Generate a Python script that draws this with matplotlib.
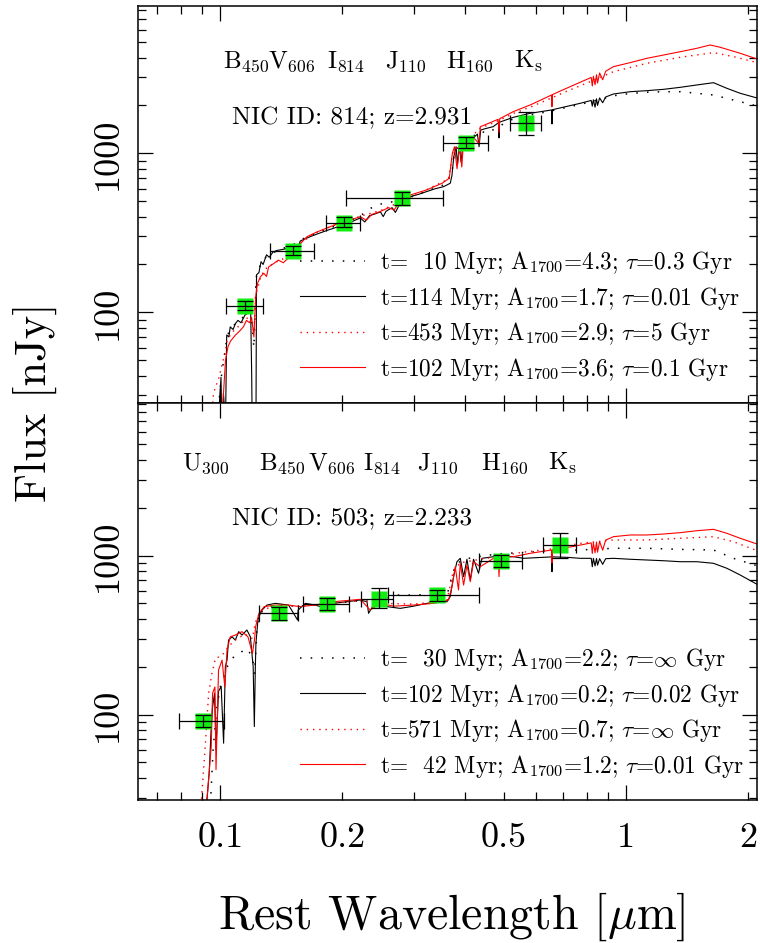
import matplotlib
matplotlib.use("Agg")
import matplotlib.pyplot as plt
from matplotlib.ticker import FixedLocator

plt.rcParams["font.family"] = "cmr10"
plt.rcParams["mathtext.fontset"] = "cm"
plt.rcParams["axes.formatter.use_mathtext"] = True

# ---------------- NIC ID 814, z = 2.931 ----------------
up_bk_sol_wl = [0.0950, 0.0990, 0.1004, 0.1010, 0.1018, 0.1030, 0.1037, 0.1050, 0.1058, 0.1075,
                0.1090, 0.1105, 0.1125, 0.1150, 0.1170, 0.1188, 0.1195, 0.1205, 0.1222, 0.1228,
                0.1245, 0.1260, 0.1275, 0.1300, 0.1320, 0.1350, 0.1380, 0.1405, 0.1440, 0.1487,
                0.1520, 0.1545, 0.1574, 0.1620, 0.1670, 0.1763, 0.1850, 0.1975, 0.2100, 0.2212,
                0.2270, 0.2330, 0.2400, 0.2480, 0.2520, 0.2560, 0.2650, 0.2700, 0.2775, 0.2850,
                0.2940, 0.3100, 0.3220, 0.3380, 0.3550, 0.3685, 0.3720, 0.3760, 0.3810, 0.3840,
                0.3880, 0.3920, 0.3960, 0.4020, 0.4100, 0.4200, 0.4300, 0.4340, 0.4380, 0.4500,
                0.4700, 0.4850, 0.4861, 0.4875, 0.5270, 0.5800, 0.6550, 0.6563, 0.6580, 0.7700,
                0.8200, 0.8250, 0.8300, 0.8380, 0.8450, 0.8500, 0.8600, 0.8750, 0.8900, 0.9300,
                1.0230, 1.1240, 1.2360, 1.3590, 1.4930, 1.6410, 1.7700, 1.9090, 2.1000]
up_bk_sol_fx = [8, 22, 39, 14, 31, 20, 72, 70, 81, 78,
                85, 89, 86, 96, 99, 103, 40, 5, 5, 172,
                178, 208, 200, 230, 222, 240, 245, 247, 250, 255,
                262, 245, 281, 290, 300, 316, 330, 349, 370, 392,
                370, 405, 415, 428, 400, 432, 455, 425, 485, 505,
                534, 555, 574, 598, 617, 648, 720, 950, 1100, 850,
                1120, 880, 1150, 1180, 1200, 1250, 1320, 1100, 1400, 1430,
                1470, 1560, 1250, 1570, 1683, 1785, 1873, 1530, 1880, 2062,
                2150, 1980, 2170, 1950, 2200, 2000, 2230, 2080, 2260, 2360,
                2440, 2477, 2525, 2600, 2690, 2780, 2563, 2385, 2228]

up_rd_sol_wl = [0.1005, 0.1015, 0.1030, 0.1045, 0.1060, 0.1090, 0.1120, 0.1140, 0.1160, 0.1180,
                0.1195, 0.1210, 0.1222, 0.1235, 0.1255, 0.1280, 0.1300, 0.1315, 0.1355, 0.1390,
                0.1430, 0.1480, 0.1520, 0.1550, 0.1574, 0.1635, 0.1720, 0.1820, 0.1960, 0.2120,
                0.2212, 0.2290, 0.2360, 0.2475, 0.2600, 0.2680, 0.2770, 0.2940, 0.3220, 0.3520,
                0.3665, 0.3730, 0.3775, 0.3830, 0.3890, 0.3935, 0.3970, 0.4100, 0.4200, 0.4340,
                0.4370, 0.4835, 0.4861, 0.4880, 0.5270, 0.5800, 0.6550, 0.6563, 0.6580, 0.7125,
                0.8200, 0.8250, 0.8300, 0.8380, 0.8450, 0.8500, 0.8600, 0.8750, 0.8900, 0.9300,
                1.0230, 1.1240, 1.2360, 1.3590, 1.4930, 1.6100, 1.7040, 1.9090, 2.1370]
up_rd_sol_fx = [5, 27, 50, 61, 66, 72, 77, 81, 89, 86,
                92, 70, 125, 152, 167, 176, 168, 193, 203, 213,
                205, 223, 259, 250, 270, 299, 318, 337, 363, 385,
                399, 380, 412, 430, 455, 440, 497, 547, 588, 648,
                697, 1000, 1100, 800, 1130, 820, 1150, 1190, 1260, 1150,
                1469, 1636, 1350, 1650, 1828, 2014, 2327, 1964, 2340, 2563,
                3000, 2650, 3050, 2700, 3120, 2767, 3200, 2900, 3280, 3508,
                3717, 3956, 4150, 4355, 4575, 4800, 4643, 4256, 3860]

up_rd_dot_wl = [0.0930, 0.0962, 0.0993, 0.1006, 0.1026, 0.1040, 0.1070, 0.1100, 0.1150, 0.1190,
                0.1210, 0.1225, 0.1260, 0.1300, 0.1360, 0.1420, 0.1500, 0.1574, 0.1700, 0.1850,
                0.2000, 0.2200, 0.2500, 0.2800, 0.3200, 0.3650, 0.3750, 0.4000, 0.4370, 0.4835,
                0.5270, 0.5800, 0.6550, 0.7125, 0.8500, 0.9300, 1.1240, 1.3590, 1.6410, 1.8370,
                2.1370]
up_rd_dot_fx = [10, 31, 39, 45, 55, 67, 75, 80, 90, 95,
                75, 130, 170, 190, 205, 215, 240, 272, 312, 342,
                370, 400, 440, 500, 585, 690, 1050, 1160, 1440, 1600,
                1780, 1950, 2230, 2450, 2950, 3260, 3680, 4018, 4295, 4055,
                3680]

up_bk_dot_wl = [0.0990, 0.1004, 0.1030, 0.1040, 0.1080, 0.1120, 0.1160, 0.1190, 0.1210, 0.1225,
                0.1260, 0.1300, 0.1405, 0.1500, 0.1574, 0.1700, 0.1850, 0.2000, 0.2200, 0.2350,
                0.2520, 0.2800, 0.3200, 0.3600, 0.3720, 0.3780, 0.4020, 0.4370, 0.4540, 0.5180,
                0.5800, 0.6550, 0.7700, 0.8600, 0.9300, 1.0230, 1.1240, 1.2360, 1.3590, 1.4930,
                1.6410, 1.8370, 2.1370]
up_bk_dot_fx = [25, 38, 60, 72, 83, 90, 97, 101, 60, 165,
                205, 225, 250, 262, 285, 310, 338, 360, 400, 452,
                486, 505, 575, 640, 750, 1050, 1180, 1380, 1336, 1620,
                1740, 1850, 2030, 2180, 2300, 2380, 2420, 2440, 2440, 2385,
                2325, 2164, 1963]

up_band = ["B", "V", "I", "J", "H", "K"]
up_band_sub = ["450", "606", "814", "110", "160", "s"]
up_wl = [0.1150, 0.1507, 0.2012, 0.2803, 0.4041, 0.5650]
up_wl_lo = [0.1030, 0.1322, 0.1826, 0.2046, 0.3547, 0.5160]
up_wl_hi = [0.1276, 0.1704, 0.2209, 0.3547, 0.4553, 0.6164]
up_fx = [110, 244, 366, 525, 1166, 1544]
up_fx_lo = [103, 229, 345, 473, 1075, 1304]
up_fx_hi = [118, 261, 399, 574, 1272, 1828]

up_labels = [r"t=  10 Myr; A$_{1700}$=4.3; $\tau$=0.3 Gyr",
             r"t=114 Myr; A$_{1700}$=1.7; $\tau$=0.01 Gyr",
             r"t=453 Myr; A$_{1700}$=2.9; $\tau$=5 Gyr",
             r"t=102 Myr; A$_{1700}$=3.6; $\tau$=0.1 Gyr"]

# ---------------- NIC ID 503, z = 2.233 ----------------
lo_bk_sol_wl = [0.0900, 0.0927, 0.0939, 0.0950, 0.0957, 0.0968, 0.0976, 0.0990, 0.1005, 0.1019,
                0.1029, 0.1039, 0.1048, 0.1069, 0.1089, 0.1110, 0.1131, 0.1163, 0.1186, 0.1205,
                0.1213, 0.1220, 0.1224, 0.1238, 0.1255, 0.1267, 0.1303, 0.1366, 0.1473, 0.1550,
                0.1555, 0.1620, 0.1714, 0.1763, 0.1901, 0.2051, 0.2212, 0.2298, 0.2319, 0.2385,
                0.2574, 0.2775, 0.2992, 0.3228, 0.3617, 0.3685, 0.3756, 0.3828, 0.3901, 0.3976,
                0.4052, 0.4129, 0.4206, 0.4327, 0.4411, 0.4711, 0.5278, 0.5585, 0.6550, 0.6563,
                0.6580, 0.7145, 0.7704, 0.8200, 0.8250, 0.8300, 0.8380, 0.8450, 0.8500, 0.8600,
                0.8750, 0.8900, 0.9300, 1.0230, 1.1240, 1.2360, 1.3590, 1.4930, 1.6410, 1.7700,
                1.9090, 2.1370]
lo_bk_sol_fx = [5, 29, 43, 84, 111, 136, 60, 140, 150, 66,
                200, 220, 294, 308, 294, 332, 316, 340, 308, 200,
                84, 200, 280, 393, 433, 454, 488, 500, 488, 393,
                454, 500, 488, 477, 500, 512, 525, 512, 433, 488,
                477, 465, 480, 500, 512, 551, 736, 914, 960, 736,
                947, 701, 947, 773, 960, 983, 983, 960, 980, 791,
                980, 974, 960, 960, 850, 960, 860, 958, 870, 955,
                880, 955, 960, 947, 937, 927, 914, 914, 893, 831,
                754, 643]

lo_rd_sol_wl = [0.0927, 0.0950, 0.0957, 0.0970, 0.0976, 0.0990, 0.1010, 0.1026, 0.1039, 0.1058,
                0.1089, 0.1131, 0.1170, 0.1200, 0.1215, 0.1222, 0.1245, 0.1283, 0.1366, 0.1470,
                0.1570, 0.1714, 0.1800, 0.1901, 0.2212, 0.2341, 0.2477, 0.2672, 0.2992, 0.3352,
                0.3650, 0.3722, 0.3792, 0.3862, 0.3901, 0.3976, 0.4052, 0.4129, 0.4206, 0.4369,
                0.4711, 0.4840, 0.4861, 0.4880, 0.5278, 0.5800, 0.6550, 0.6563, 0.6580, 0.6900,
                0.7350, 0.8200, 0.8250, 0.8300, 0.8380, 0.8450, 0.8500, 0.8600, 0.8750, 0.8900,
                0.9300, 1.0230, 1.1240, 1.2360, 1.3590, 1.4930, 1.6410, 1.7700, 1.9090, 2.1370]
lo_rd_sol_fx = [29, 63, 136, 149, 45, 190, 220, 149, 254, 308,
                316, 332, 308, 242, 300, 357, 433, 477, 488, 488,
                477, 488, 500, 512, 530, 454, 500, 480, 488, 500,
                525, 636, 850, 607, 893, 652, 871, 684, 914, 850,
                960, 970, 736, 975, 983, 1032, 1083, 900, 1085, 1110,
                1136, 1200, 1030, 1205, 1040, 1215, 1050, 1225, 1080, 1250,
                1313, 1346, 1346, 1365, 1392, 1432, 1461, 1379, 1283, 1164]

lo_rd_dot_wl = [0.0870, 0.0901, 0.0918, 0.0927, 0.0936, 0.0954, 0.0973, 0.1000, 0.1019, 0.1050,
                0.1100, 0.1150, 0.1200, 0.1220, 0.1260, 0.1366, 0.1550, 0.1800, 0.2212, 0.2500,
                0.3000, 0.3617, 0.3750, 0.3901, 0.4400, 0.4900, 0.5580, 0.6550, 0.7704, 0.9300,
                1.1240, 1.3590, 1.6410, 1.8370, 2.1370]
lo_rd_dot_fx = [10, 32, 63, 92, 136, 182, 226, 232, 242, 270,
                300, 320, 300, 380, 450, 485, 480, 495, 520, 500,
                495, 520, 800, 900, 950, 990, 1050, 1100, 1193, 1252,
                1252, 1283, 1313, 1221, 1056]

lo_bk_dot_wl = [0.0940, 0.0960, 0.0980, 0.1000, 0.1048, 0.1089, 0.1131, 0.1163, 0.1200, 0.1215,
                0.1230, 0.1260, 0.1366, 0.1550, 0.1800, 0.2212, 0.2600, 0.2723, 0.3051, 0.3352,
                0.3617, 0.3700, 0.3800, 0.4000, 0.4500, 0.5000, 0.5800, 0.6550, 0.7704, 0.9300,
                1.1240, 1.3590, 1.6410, 1.8370, 2.1370]
lo_bk_dot_fx = [20, 60, 110, 149, 210, 237, 249, 260, 230, 180,
                330, 440, 490, 480, 495, 520, 545, 564, 564, 573,
                560, 700, 880, 950, 1000, 1030, 1050, 1070, 1083, 1110,
                1110, 1093, 1083, 960, 850]

lo_band = ["U", "B", "V", "I", "J", "H", "K"]
lo_band_sub = ["300", "450", "606", "814", "110", "160", "s"]
lo_wl = [0.0904, 0.1397, 0.1837, 0.2454, 0.3418, 0.4920, 0.6880]
lo_wl_lo = [0.0789, 0.1247, 0.1603, 0.2220, 0.2594, 0.4327, 0.6255]
lo_wl_hi = [0.1019, 0.1553, 0.2070, 0.2670, 0.4327, 0.5545, 0.7518]
lo_fx = [91.4, 433, 493, 532, 564, 927, 1164]
lo_fx_lo = [84, 393, 454, 465, 520, 850, 960]
lo_fx_hi = [99, 476, 538, 622, 606, 1007, 1379]

lo_labels = [r"t=  30 Myr; A$_{1700}$=2.2; $\tau$=$\infty$ Gyr",
             r"t=102 Myr; A$_{1700}$=0.2; $\tau$=0.02 Gyr",
             r"t=571 Myr; A$_{1700}$=0.7; $\tau$=$\infty$ Gyr",
             r"t=  42 Myr; A$_{1700}$=1.2; $\tau$=0.01 Gyr"]

x_minor = [0.07, 0.08, 0.09, 0.2, 0.3, 0.4, 0.5, 0.6, 0.7, 0.8, 0.9, 2.0]
x_minor_lab = ["", "", "", "0.2", "", "", "0.5", "", "", "", "", "2"]
y_major = [10, 100, 1000, 10000]
y_minor = [m * d for d in (10, 100, 1000) for m in range(2, 10)]

# ---------------- figure ----------------
W, H = 760, 943
fig = plt.figure(figsize=(W / 100, H / 100), dpi=100)
ax_up = fig.add_axes([138 / W, 1 - 403 / H, 619 / W, 397 / H])
ax_lo = fig.add_axes([138 / W, 1 - 800 / H, 619 / W, 397 / H])

BK_DOT = dict(color="black", lw=1.1, ls=(0, (1, 6)))
BK_SOL = dict(color="black", lw=0.8, ls="-")
RD_DOT = dict(color="red", lw=1.0, ls=(0, (1, 3.5)))
RD_SOL = dict(color="red", lw=0.8, ls="-")
GREEN = "#11ee11"
LEG_FS = 16.8


def draw_panel(ax, curves, labels, wl, wlo, whi, fx, flo, fhi, ylim):
    handles = []
    for (cx, cy), sty in zip(curves, (BK_DOT, BK_SOL, RD_DOT, RD_SOL)):
        h, = ax.plot(cx, cy, zorder=2, **sty)
        handles.append(h)
    ax.plot(wl, fx, "s", ms=12.2, color=GREEN, mec="none", zorder=4)
    xerr = [[w - a for w, a in zip(wl, wlo)], [b - w for w, b in zip(wl, whi)]]
    yerr = [[f - a for f, a in zip(fx, flo)], [b - f for f, b in zip(fx, fhi)]]
    ax.errorbar(wl, fx, xerr=xerr, yerr=yerr, fmt="none", ecolor="black",
                elinewidth=0.9, capsize=5.5, capthick=0.9, zorder=5)
    ax.set_xscale("log")
    ax.set_yscale("log")
    ax.set_xlim(0.0627, 2.10)
    ax.xaxis.set_major_locator(FixedLocator([0.1, 1.0]))
    ax.set_xticks([0.1, 1.0], labels=["0.1", "1"])
    ax.set_xticks(x_minor, labels=x_minor_lab, minor=True)
    ax.set_yticks(y_major, labels=[str(v) for v in y_major])
    ax.set_yticks(y_minor, labels=[""] * len(y_minor), minor=True)
    ax.set_ylim(*ylim)
    ax.tick_params(which="both", direction="in", top=True, right=True,
                   width=0.9, labelsize=26)
    ax.tick_params(which="major", length=11)
    ax.tick_params(which="minor", length=6)
    ax.tick_params(axis="y", which="major", labelrotation=90, pad=10)
    ax.tick_params(axis="x", which="both", pad=16)
    for lab in ax.get_yticklabels():
        lab.set_va("center")
    for sp in ax.spines.values():
        sp.set_linewidth(1.1)
    ax.legend(handles, labels, loc="upper left",
              bbox_to_anchor=((300 - 138) / 619, 0.3876),
              frameon=False, fontsize=LEG_FS, handlelength=2.8,
              handletextpad=0.62, labelspacing=0.364,
              borderpad=0, borderaxespad=0)


draw_panel(ax_up,
           [(up_bk_dot_wl, up_bk_dot_fx), (up_bk_sol_wl, up_bk_sol_fx),
            (up_rd_dot_wl, up_rd_dot_fx), (up_rd_sol_wl, up_rd_sol_fx)],
           up_labels, up_wl, up_wl_lo, up_wl_hi, up_fx, up_fx_lo, up_fx_hi,
           (26.9, 8440))
draw_panel(ax_lo,
           [(lo_bk_dot_wl, lo_bk_dot_fx), (lo_bk_sol_wl, lo_bk_sol_fx),
            (lo_rd_dot_wl, lo_rd_dot_fx), (lo_rd_sol_wl, lo_rd_sol_fx)],
           lo_labels, lo_wl, lo_wl_lo, lo_wl_hi, lo_fx, lo_fx_lo, lo_fx_hi,
           (29.0, 9100))
ax_up.tick_params(axis="x", which="both", labelbottom=False)

# filter names along the top of each panel (pixel columns of the letters)
up_lab_px = [223, 268, 327, 385, 446, 514]
lo_lab_px = [182, 259, 308, 363, 417, 481, 548]
for px, b, s in zip(up_lab_px, up_band, up_band_sub):
    ax_up.text((px - 138) / 619, (403 - 68) / 397, b + r"$_\mathrm{" + s + "}$",
               transform=ax_up.transAxes, fontsize=18, va="baseline", ha="left")
for px, b, s in zip(lo_lab_px, lo_band, lo_band_sub):
    ax_lo.text((px - 138) / 619, (800 - 470) / 397, b + r"$_\mathrm{" + s + "}$",
               transform=ax_lo.transAxes, fontsize=18, va="baseline", ha="left")

ax_up.text((232 - 138) / 619, (403 - 124) / 397, "NIC ID: 814; z=2.931",
           transform=ax_up.transAxes, fontsize=18.2, va="baseline", ha="left")
ax_lo.text((232 - 138) / 619, (800 - 525) / 397, "NIC ID: 503; z=2.233",
           transform=ax_lo.transAxes, fontsize=18.2, va="baseline", ha="left")

fig.text(35 / W, 1 - 402 / H, "Flux [nJy]", rotation=90, ha="center",
         va="center", fontsize=32)
fig.text(452 / W, 1 - 917 / H, r"Rest Wavelength [$\mu$m]", ha="center",
         va="center", fontsize=34.5)

fig.savefig("out.png", dpi=100)
